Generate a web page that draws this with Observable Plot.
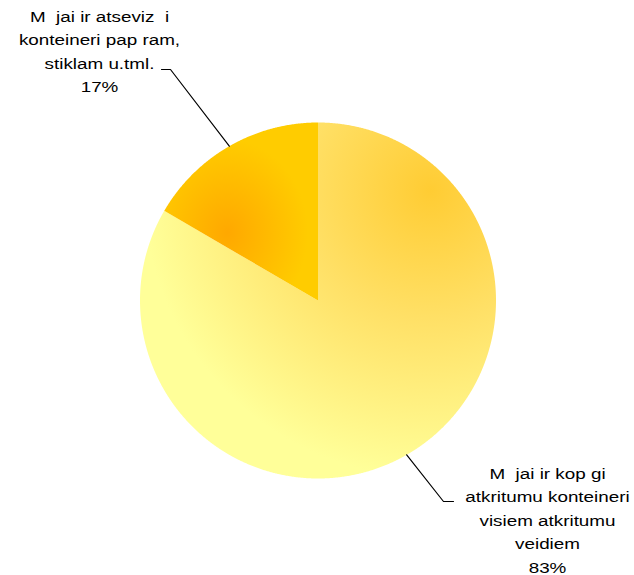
<!DOCTYPE html>
<html>
<head>
<meta charset="utf-8">
<script src="https://cdn.jsdelivr.net/npm/d3@7"></script>
<script src="https://cdn.jsdelivr.net/npm/@observablehq/plot@0.6"></script>
<style>
  body { margin: 0; background: #fff; }
  svg text, svg tspan { white-space: pre; }
</style>
</head>
<body>
<div id="chart"></div>
<script>
// ---- data ----
const categories = [
  "M  jai ir kop gi\natkritumu konteineri\nvisiem atkritumu\nveidiem",
  "M  jai ir atseviz  i\nkonteineri pap ram,\nstiklam u.tml."
];
const values = [83.4, 16.6];
const gradientIds = ["g83", "g17"];

// ---- layout (pie units: centre = 0,0, y up) ----
const R = 178;
const labelLayout = [
  { elbow: [125.5, -201], end: [135.5, -201], text: [229.5, -272] },
  { elbow: [-147.5, 231], end: [-156.5, 231], text: [-218.5, 208.5] }
];

const slices = d3.pie().sort(null).value(d => d.value)(
  categories.map((name, i) => ({ name, value: values[i], grad: gradientIds[i], i }))
);

function slicePoints(a) {
  const pts = [{ x: 0, y: 0 }];
  const n = Math.ceil((a.endAngle - a.startAngle) / 0.004);
  for (let k = 0; k <= n; k++) {
    const t = a.startAngle + (a.endAngle - a.startAngle) * k / n;
    pts.push({ x: R * Math.sin(t), y: R * Math.cos(t) });
  }
  pts.push({ x: 0, y: 0 });
  return pts;
}

const leaders = slices.flatMap(a => {
  const L = labelLayout[a.data.i];
  const m = (a.startAngle + a.endAngle) / 2;
  return [
    { s: a.data.i, x: R * Math.sin(m), y: R * Math.cos(m) },
    { s: a.data.i, x: L.elbow[0], y: L.elbow[1] },
    { s: a.data.i, x: L.end[0], y: L.end[1] }
  ];
});

const labels = slices.map(a => {
  const L = labelLayout[a.data.i];
  return { x: L.text[0], y: L.text[1], text: `${a.data.name}\n${Math.round(a.data.value)}%` };
});

const plot = Plot.plot({
  width: 634,
  height: 575,
  margin: 0,
  x: { domain: [-317.5, 316.5], axis: null },
  y: { domain: [-275, 300], axis: null },
  marks: [
    ...slices.map(a => Plot.line(slicePoints(a), {
      x: "x", y: "y", fill: `url(#${a.data.grad})`, stroke: "none"
    })),
    Plot.line(leaders, { x: "x", y: "y", z: "s", stroke: "#000", strokeWidth: 1.2 }),
    Plot.text(labels, {
      x: "x", y: "y", text: "text",
      textAnchor: "middle", lineAnchor: "bottom",
      fontSize: 14.5, lineHeight: 1.614,
      fontFamily: "Liberation Sans, Arial, sans-serif",
      fill: "#000"
    })
  ]
});

// gradients
const svg = d3.select(plot);
const defs = svg.insert("defs", ":first-child");
const g83 = defs.append("radialGradient").attr("id", "g83")
  .attr("cx", 0.817).attr("cy", 0.19).attr("r", 0.95);
g83.append("stop").attr("offset", 0).attr("stop-color", "#FFCC33");
g83.append("stop").attr("offset", 0.38).attr("stop-color", "#FFE066");
g83.append("stop").attr("offset", 0.85).attr("stop-color", "#FFFF99");
g83.append("stop").attr("offset", 1).attr("stop-color", "#FFFF99");
const g17 = defs.append("radialGradient").attr("id", "g17")
  .attr("cx", 0.41).attr("cy", 0.62).attr("r", 0.7);
g17.append("stop").attr("offset", 0).attr("stop-color", "#FFA800");
g17.append("stop").attr("offset", 0.75).attr("stop-color", "#FFCC00");
g17.append("stop").attr("offset", 1).attr("stop-color", "#FFCC00");

// horizontally widen the label text around its anchor
svg.selectAll("text").each(function () {
  const t = this.getAttribute("transform");
  if (t && t.includes("translate")) this.setAttribute("transform", t + " scale(1.3,1)");
});

document.getElementById("chart").appendChild(plot);
</script>
</body>
</html>
